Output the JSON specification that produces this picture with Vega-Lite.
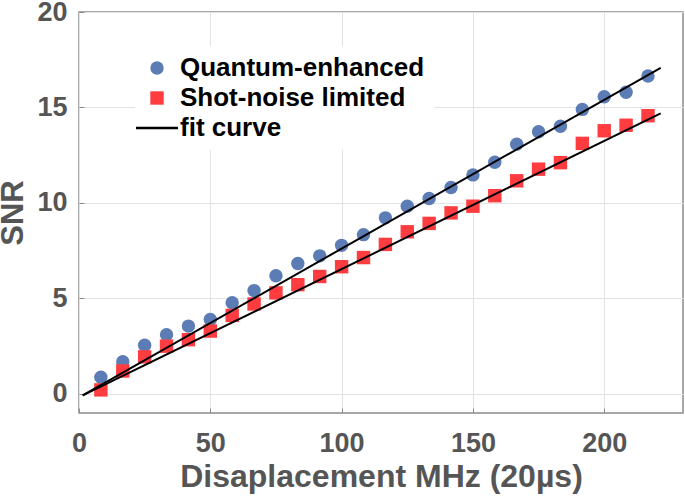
{
  "$schema": "https://vega.github.io/schema/vega-lite/v6.json",
  "width": 604,
  "height": 401,
  "autosize": "none",
  "padding": {"left": 79, "top": 12, "right": 2, "bottom": 83},
  "background": "white",
  "config": {
    "font": "Liberation Sans",
    "view": {"stroke": "#8c8c8c", "strokeWidth": 1.5}
  },
  "datasets": {
    "points": [
      {"mhz": 8.33, "snr": 0.87, "series": "Quantum-enhanced"},
      {"mhz": 16.67, "snr": 1.68, "series": "Quantum-enhanced"},
      {"mhz": 25.0, "snr": 2.55, "series": "Quantum-enhanced"},
      {"mhz": 33.33, "snr": 3.1, "series": "Quantum-enhanced"},
      {"mhz": 41.67, "snr": 3.55, "series": "Quantum-enhanced"},
      {"mhz": 50.0, "snr": 3.9, "series": "Quantum-enhanced"},
      {"mhz": 58.33, "snr": 4.77, "series": "Quantum-enhanced"},
      {"mhz": 66.67, "snr": 5.41, "series": "Quantum-enhanced"},
      {"mhz": 75.0, "snr": 6.19, "series": "Quantum-enhanced"},
      {"mhz": 83.33, "snr": 6.83, "series": "Quantum-enhanced"},
      {"mhz": 91.67, "snr": 7.23, "series": "Quantum-enhanced"},
      {"mhz": 100.0, "snr": 7.78, "series": "Quantum-enhanced"},
      {"mhz": 108.33, "snr": 8.34, "series": "Quantum-enhanced"},
      {"mhz": 116.67, "snr": 9.22, "series": "Quantum-enhanced"},
      {"mhz": 125.0, "snr": 9.83, "series": "Quantum-enhanced"},
      {"mhz": 133.33, "snr": 10.23, "series": "Quantum-enhanced"},
      {"mhz": 141.67, "snr": 10.81, "series": "Quantum-enhanced"},
      {"mhz": 150.0, "snr": 11.47, "series": "Quantum-enhanced"},
      {"mhz": 158.33, "snr": 12.13, "series": "Quantum-enhanced"},
      {"mhz": 166.67, "snr": 13.08, "series": "Quantum-enhanced"},
      {"mhz": 175.0, "snr": 13.73, "series": "Quantum-enhanced"},
      {"mhz": 183.33, "snr": 14.02, "series": "Quantum-enhanced"},
      {"mhz": 191.67, "snr": 14.9, "series": "Quantum-enhanced"},
      {"mhz": 200.0, "snr": 15.56, "series": "Quantum-enhanced"},
      {"mhz": 208.33, "snr": 15.8, "series": "Quantum-enhanced"},
      {"mhz": 216.67, "snr": 16.65, "series": "Quantum-enhanced"},
      {"mhz": 8.33, "snr": 0.21, "series": "Shot-noise limited"},
      {"mhz": 16.67, "snr": 1.2, "series": "Shot-noise limited"},
      {"mhz": 25.0, "snr": 1.94, "series": "Shot-noise limited"},
      {"mhz": 33.33, "snr": 2.5, "series": "Shot-noise limited"},
      {"mhz": 41.67, "snr": 2.84, "series": "Shot-noise limited"},
      {"mhz": 50.0, "snr": 3.29, "series": "Shot-noise limited"},
      {"mhz": 58.33, "snr": 4.11, "series": "Shot-noise limited"},
      {"mhz": 66.67, "snr": 4.71, "series": "Shot-noise limited"},
      {"mhz": 75.0, "snr": 5.29, "series": "Shot-noise limited"},
      {"mhz": 83.33, "snr": 5.72, "series": "Shot-noise limited"},
      {"mhz": 91.67, "snr": 6.15, "series": "Shot-noise limited"},
      {"mhz": 100.0, "snr": 6.66, "series": "Shot-noise limited"},
      {"mhz": 108.33, "snr": 7.14, "series": "Shot-noise limited"},
      {"mhz": 116.67, "snr": 7.83, "series": "Shot-noise limited"},
      {"mhz": 125.0, "snr": 8.49, "series": "Shot-noise limited"},
      {"mhz": 133.33, "snr": 8.93, "series": "Shot-noise limited"},
      {"mhz": 141.67, "snr": 9.48, "series": "Shot-noise limited"},
      {"mhz": 150.0, "snr": 9.83, "series": "Shot-noise limited"},
      {"mhz": 158.33, "snr": 10.38, "series": "Shot-noise limited"},
      {"mhz": 166.67, "snr": 11.16, "series": "Shot-noise limited"},
      {"mhz": 175.0, "snr": 11.77, "series": "Shot-noise limited"},
      {"mhz": 183.33, "snr": 12.11, "series": "Shot-noise limited"},
      {"mhz": 191.67, "snr": 13.12, "series": "Shot-noise limited"},
      {"mhz": 200.0, "snr": 13.78, "series": "Shot-noise limited"},
      {"mhz": 208.33, "snr": 14.07, "series": "Shot-noise limited"},
      {"mhz": 216.67, "snr": 14.57, "series": "Shot-noise limited"}
    ],
    "fits": [
      {"mhz": 1.4, "snr": -0.08, "series": "fit curve", "fit": "quantum"},
      {"mhz": 221.5, "snr": 17.08, "series": "fit curve", "fit": "quantum"},
      {"mhz": 1.4, "snr": -0.08, "series": "fit curve", "fit": "shot"},
      {"mhz": 221.5, "snr": 14.69, "series": "fit curve", "fit": "shot"}
    ]
  },
  "encoding": {
    "x": {
      "field": "mhz",
      "type": "quantitative",
      "scale": {"domain": [0, 230], "nice": false, "zero": false},
      "axis": {
        "values": [0, 50, 100, 150, 200],
        "title": "Disaplacement MHz (20µs)",
        "titleFontSize": 32,
        "titleFontWeight": "bold",
        "titleColor": "#555555",
        "titlePadding": 5,
        "labelFontSize": 27,
        "labelFontWeight": "bold",
        "labelColor": "#555555",
        "labelPadding": 22,
        "labelFlush": false,
        "labelOverlap": false,
        "domain": false,
        "ticks": true,
        "tickSize": -5,
        "tickColor": "#8c8c8c",
        "gridColor": "#e3e3e3",
        "gridWidth": 1
      }
    },
    "y": {
      "field": "snr",
      "type": "quantitative",
      "scale": {"domain": [-1, 20], "nice": false, "zero": false},
      "axis": {
        "values": [0, 5, 10, 15, 20],
        "title": "SNR",
        "titleFontSize": 31,
        "titleFontWeight": "bold",
        "titleColor": "#555555",
        "titlePadding": 7,
        "labelFontSize": 27,
        "labelFontWeight": "bold",
        "labelColor": "#555555",
        "labelPadding": 17,
        "labelFlush": false,
        "labelOverlap": false,
        "domain": false,
        "ticks": true,
        "tickSize": -5,
        "tickColor": "#8c8c8c",
        "gridColor": "#e3e3e3",
        "gridWidth": 1
      }
    }
  },
  "layer": [
    {
      "data": {"name": "points"},
      "mark": {"type": "point", "filled": true, "opacity": 1, "size": 180},
      "encoding": {
        "color": {
          "field": "series",
          "type": "nominal",
          "scale": {
            "domain": ["Quantum-enhanced", "Shot-noise limited", "fit curve"],
            "range": ["#5b7cb5", "#ff3d40", "#000000"]
          },
          "legend": {
            "title": null,
            "orient": "none",
            "legendX": 56,
            "legendY": 34,
            "fillColor": "white",
            "padding": 9,
            "rowPadding": 4,
            "labelFontSize": 26,
            "labelFontWeight": "bold",
            "labelColor": "#000000",
            "labelOffset": 10,
            "labelLimit": 400,
            "symbolOpacity": 1,
            "symbolStrokeWidth": 2.5,
            "encode": {
              "symbols": {
                "update": {
                  "size": {"signal": "datum.value === 'fit curve' ? 1764 : 180"},
                  "stroke": {"scale": "color", "field": "value"},
                  "strokeWidth": {"signal": "datum.value === 'fit curve' ? 2.5 : 0"}
                }
              }
            }
          }
        },
        "shape": {
          "field": "series",
          "type": "nominal",
          "scale": {
            "domain": ["Quantum-enhanced", "Shot-noise limited", "fit curve"],
            "range": ["circle", "square", "stroke"]
          },
          "legend": {
            "title": null,
            "orient": "none",
            "legendX": 56,
            "legendY": 34,
            "fillColor": "white",
            "padding": 9,
            "rowPadding": 4,
            "labelFontSize": 26,
            "labelFontWeight": "bold",
            "labelColor": "#000000",
            "labelOffset": 10,
            "labelLimit": 400,
            "symbolOpacity": 1,
            "symbolStrokeWidth": 2.5,
            "encode": {
              "symbols": {
                "update": {
                  "size": {"signal": "datum.value === 'fit curve' ? 1764 : 180"},
                  "stroke": {"scale": "color", "field": "value"},
                  "strokeWidth": {"signal": "datum.value === 'fit curve' ? 2.5 : 0"}
                }
              }
            }
          }
        }
      }
    },
    {
      "data": {"name": "fits"},
      "mark": {"type": "line", "strokeWidth": 2},
      "encoding": {
        "color": {"field": "series", "type": "nominal"},
        "detail": {"field": "fit", "type": "nominal"}
      }
    }
  ]
}
